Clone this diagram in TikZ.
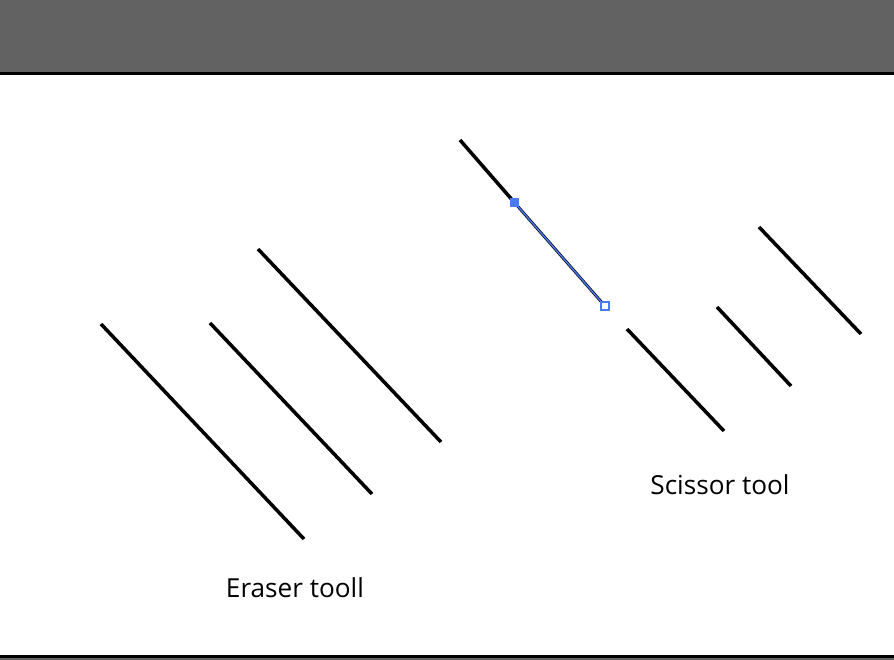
\documentclass[tikz,border=0pt]{standalone}
\usepackage{fontspec}
\setmainfont{Open Sans}
\usetikzlibrary{positioning}

\definecolor{headergray}{HTML}{626262}
\definecolor{anchorblue}{HTML}{4A7AF5}

\begin{document}
\begin{tikzpicture}[x = 0.02cm, y = -0.02cm]
					\useasboundingbox (0, 0) rectangle (894, 660);
					\fill [headergray] (0, 0) rectangle (894, 73);
					\draw [black, line width = 1.2pt] (0, 73.5) -- (894, 73.5);
					\fill [headergray] (0, 657) rectangle (894, 660);
					\draw [black, line width = 1.2pt] (0, 656.5) -- (894, 656.5);
					\draw [black, line width = 2pt] (101, 324) -- (304, 539);
					\draw [black, line width = 2pt] (210, 323) -- (372, 494);
					\draw [black, line width = 2pt] (258, 249) -- (441, 442);
					\draw [black, line width = 2pt] (460, 140) -- (514, 202);
					\draw [black, line width = 1.6pt] (514, 202) -- (605, 306);
					\draw [anchorblue, line width = 0.8pt] (514, 202) -- (605, 306);
					\fill [anchorblue] (509.5, 197.5) rectangle (518.5, 206.5);
					\draw [anchorblue, fill = white, line width = 0.7pt] (601, 302) rectangle (609, 310);
					\draw [black, line width = 2pt] (627, 329) -- (724, 431);
					\draw [black, line width = 2pt] (717, 307) -- (791, 386);
					\draw [black, line width = 2pt] (759, 227) -- (861, 334);
					\node (eraser) at (295, 588) {\fontsize{14.9}{16}\selectfont Eraser tooll};
					\node (scissor) at (720, 485) {\fontsize{14.9}{16}\selectfont Scissor tool};
				\end{tikzpicture}
\end{document}
